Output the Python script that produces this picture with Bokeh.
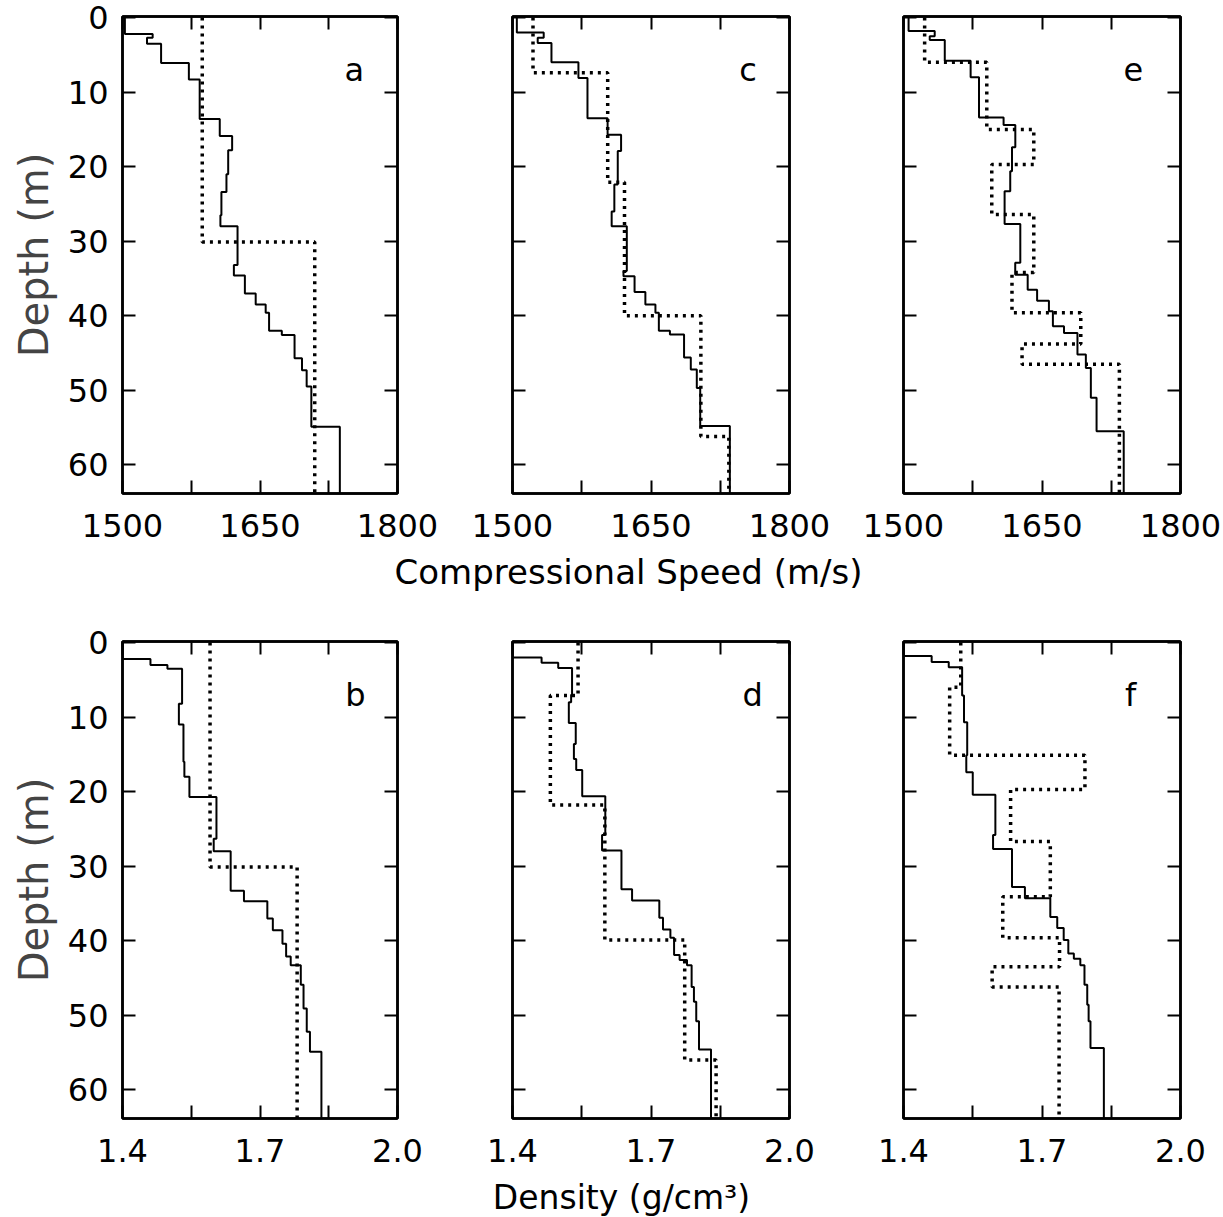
import numpy as np
from bokeh.plotting import figure
from bokeh.models import Range1d, LinearAxis, FixedTicker, Label
from bokeh.layouts import column, row
from bokeh.embed import file_html
from bokeh.resources import INLINE

FONT = "DejaVu Sans"

# ---------------- data ----------------
depth_ticks = [0, 10, 20, 30, 40, 50, 60]

speed_tick_vals = [1500, 1575, 1650, 1725, 1800]
speed_tick_text = ["1500", "", "1650", "", "1800"]
dens_tick_vals = [1.4, 1.55, 1.7, 1.85, 2.0]
dens_tick_text = ["1.4", "", "1.7", "", "2.0"]

# layer boundaries (depth, m) and layer values; solid = measured, dotted = model
a_meas_z = [0, 2.2, 2.7, 3.5, 6.1, 8.3, 13.6, 15.9, 17.8, 21.0, 23.4, 26.5, 28.0, 33.2, 34.6,
            37.0, 38.5, 39.6, 42.0, 42.6, 45.7, 47.3, 49.5, 54.9, 64]
a_meas_v = [1502.6, 1532.9, 1526.7, 1542.1, 1572.4, 1584.2, 1606.1, 1619.6, 1615.3, 1613.4,
            1607.9, 1606.8, 1625.5, 1621.5, 1633.5, 1645.3, 1656.2, 1659.9, 1673.8, 1687.7,
            1695.8, 1700.9, 1706.0, 1737.1]
a_model_z = [0, 30.1, 64]
a_model_v = [1587.0, 1709.7]

c_meas_z = [0, 2.0, 2.7, 3.4, 6.0, 8.1, 13.5, 15.7, 17.9, 22.4, 26.0, 28.0, 34.0, 34.7, 36.8,
            38.5, 39.6, 42.0, 42.5, 45.6, 47.2, 49.7, 54.8, 64]
c_meas_v = [1504.7, 1533.8, 1527.3, 1542.2, 1571.4, 1581.2, 1603.0, 1617.6, 1614.0, 1610.3,
            1607.4, 1623.8, 1620.2, 1632.2, 1643.9, 1654.8, 1658.5, 1670.5, 1685.8, 1693.1,
            1699.6, 1703.3, 1735.4]
c_model_z = [0, 7.4, 22.1, 40.0, 56.2, 64]
c_model_v = [1522.2, 1603.1, 1621.3, 1704.0, 1734.3]

e_meas_z = [0, 1.8, 2.5, 3.0, 5.8, 8.0, 13.4, 14.4, 17.4, 20.6, 23.3, 27.7, 32.9, 34.5, 36.5,
            38.0, 39.4, 41.4, 42.3, 45.2, 47.0, 51.0, 55.5, 64]
e_meas_v = [1505.5, 1533.8, 1528.4, 1544.7, 1572.7, 1581.8, 1608.4, 1621.1, 1617.5, 1615.6,
            1609.5, 1626.5, 1621.0, 1634.5, 1644.7, 1657.5, 1661.8, 1673.8, 1688.4, 1697.5,
            1702.9, 1709.1, 1738.5]
e_model_z = [0, 6.0, 15.0, 19.7, 26.4, 34.2, 39.6, 43.8, 46.5, 64]
e_model_v = [1522.9, 1590.2, 1641.1, 1595.6, 1641.1, 1617.5, 1692.0, 1628.4, 1733.8]

b_meas_z = [0, 2.2, 3.0, 3.5, 8.2, 11.0, 16.0, 18.0, 20.7, 26.3, 28.0, 33.3, 34.7, 37.0, 38.6,
            40.4, 42.1, 43.3, 45.9, 49.1, 52.2, 54.9, 64]
b_meas_v = [1.400, 1.461, 1.498, 1.530, 1.523, 1.533, 1.535, 1.546, 1.605, 1.599, 1.636,
            1.665, 1.716, 1.728, 1.749, 1.757, 1.767, 1.789, 1.795, 1.802, 1.809, 1.834]
b_model_z = [0, 30.1, 64]
b_model_v = [1.591, 1.781]

d_meas_z = [0, 2.0, 2.7, 3.4, 7.0, 8.0, 10.8, 13.6, 15.6, 17.1, 20.6, 25.8, 27.9, 33.1, 34.6,
            36.9, 38.5, 39.6, 41.9, 42.6, 43.3, 46.2, 48.2, 50.8, 54.6, 64]
d_meas_v = [1.400, 1.463, 1.499, 1.529, 1.527, 1.522, 1.537, 1.533, 1.538, 1.551, 1.601,
            1.594, 1.636, 1.659, 1.718, 1.726, 1.742, 1.750, 1.762, 1.778, 1.788, 1.793,
            1.798, 1.804, 1.830]
d_model_z = [0, 7.1, 21.8, 39.9, 56.0, 64]
d_model_v = [1.542, 1.482, 1.600, 1.773, 1.841]

f_meas_z = [0, 1.8, 2.6, 3.3, 7.1, 10.7, 15.1, 17.4, 20.4, 25.8, 27.7, 32.8, 34.3, 36.8, 38.3,
            39.9, 41.7, 42.4, 43.3, 45.9, 48.6, 50.8, 54.4, 64]
f_meas_v = [1.400, 1.461, 1.498, 1.527, 1.531, 1.538, 1.536, 1.550, 1.599, 1.594, 1.635,
            1.663, 1.718, 1.733, 1.747, 1.757, 1.769, 1.783, 1.792, 1.798, 1.801, 1.805, 1.834]
f_model_z = [0, 6.0, 15.1, 19.7, 26.7, 34.1, 39.6, 43.5, 46.2, 64]
f_model_v = [1.524, 1.500, 1.793, 1.632, 1.718, 1.615, 1.738, 1.592, 1.737]

speed_title = "Compressional Speed (m/s)"
dens_title = "Density (g/cm\u00b3)"
depth_title = "Depth (m)"


# ---------------- helpers ----------------
def profile_path(z, v):
    xs, ys = [], []
    for i, val in enumerate(v):
        xs += [val, val]
        ys += [z[i], z[i + 1]]
    return xs, ys


def style_axis(ax, vals, texts, show, size="32px", standoff=14):
    ax.ticker = FixedTicker(ticks=vals)
    ax.major_tick_in = 13
    ax.major_tick_out = 0
    ax.minor_tick_in = 0
    ax.minor_tick_out = 0
    ax.major_tick_line_width = 2
    ax.major_tick_line_color = "black"
    ax.axis_line_width = 2.5
    ax.axis_line_color = "black"
    ax.major_label_text_font = FONT
    ax.major_label_text_color = "black"
    if show:
        ax.major_label_text_font_size = size
        ax.major_label_standoff = standoff
        if texts is not None:
            ax.major_label_overrides = {float(v): t for v, t in zip(vals, texts)}
    else:
        ax.major_label_text_font_size = "8px"
        ax.major_label_standoff = 0
        ax.major_label_overrides = {float(v): "" for v in vals}


def panel(xr, xvals, xtexts, mz, mv, dz, dv, letter, letter_x,
          left_labels, bl, br, bt, bb, fw, xstandoff):
    w = bl + fw + br
    h = bt + 477 + bb
    p = figure(width=w, height=h, x_range=Range1d(*xr), y_range=Range1d(63.85, -0.15),
               output_backend="svg", toolbar_location=None, tools="",
               min_border_left=bl, min_border_right=br, min_border_top=bt,
               min_border_bottom=bb)
    p.grid.visible = False
    p.outline_line_color = "black"
    p.outline_line_width = 2.5
    p.background_fill_color = "white"
    p.border_fill_color = "white"

    style_axis(p.xaxis[0], xvals, xtexts, True, "32px", xstandoff)
    style_axis(p.yaxis[0], depth_ticks, None, left_labels, "32px", 14)
    if left_labels:
        p.yaxis[0].axis_label = depth_title
        p.yaxis[0].axis_label_text_font = FONT
        p.yaxis[0].axis_label_text_font_size = "40px"
        p.yaxis[0].axis_label_text_font_style = "normal"
        p.yaxis[0].axis_label_standoff = 8
    top = LinearAxis()
    style_axis(top, xvals, None, False)
    p.add_layout(top, "above")
    right = LinearAxis()
    style_axis(right, depth_ticks, None, False)
    p.add_layout(right, "right")

    xs, ys = profile_path(mz, mv)
    p.line(xs, ys, line_color="black", line_width=2)
    xs, ys = profile_path(dz, dv)
    p.line(xs, ys, line_color="black", line_width=3.5, line_dash="3 5")

    p.add_layout(Label(x=letter_x, y=7.0, text=letter, text_font=FONT,
                       text_font_size="32px", text_align="center",
                       text_baseline="alphabetic", text_color="black"))
    return p


def title_strip(height, text, x_center, y_mid, size):
    t = figure(width=1223, height=height, x_range=Range1d(0, 1223),
               y_range=Range1d(height, 0), output_backend="svg",
               toolbar_location=None, tools="", x_axis_location=None,
               y_axis_location=None, min_border=0)
    t.grid.visible = False
    t.outline_line_color = None
    t.background_fill_color = "white"
    t.border_fill_color = "white"
    t.add_layout(Label(x=x_center, y=y_mid, text=text, text_font=FONT,
                       text_font_size=size, text_align="center",
                       text_baseline="middle", text_color="black"))
    return t


SR = (1500, 1800)
DR = (1.4, 2.0)
BB1 = 58  # bottom border, top row
BB2 = 58  # bottom border, bottom row

pa = panel(SR, speed_tick_vals, speed_tick_text, a_meas_z, a_meas_v, a_model_z, a_model_v,
           "a", 1753, True, 122, 50, 16, BB1, 275, 20)
pc = panel(SR, speed_tick_vals, speed_tick_text, c_meas_z, c_meas_v, c_model_z, c_model_v,
           "c", 1755, False, 65, 50, 16, BB1, 277, 20)
pe = panel(SR, speed_tick_vals, speed_tick_text, e_meas_z, e_meas_v, e_model_z, e_model_v,
           "e", 1749, False, 64, 43, 16, BB1, 277, 20)

pb = panel(DR, dens_tick_vals, dens_tick_text, b_meas_z, b_meas_v, b_model_z, b_model_v,
           "b", 1.908, True, 122, 50, 16, BB2, 275, 20)
pd = panel(DR, dens_tick_vals, dens_tick_text, d_meas_z, d_meas_v, d_model_z, d_model_v,
           "d", 1.92, False, 65, 50, 16, BB2, 277, 20)
pf = panel(DR, dens_tick_vals, dens_tick_text, f_meas_z, f_meas_v, f_model_z, f_model_v,
           "f", 1.892, False, 64, 43, 16, BB2, 277, 20)

row1_h = 16 + 477 + BB1
row2_h = 16 + 477 + BB2
h1 = 625 - row1_h
h2 = 1217 - 625 - row2_h
t1 = title_strip(h1, speed_title, 628, 20.5, "34px")
t2 = title_strip(h2, dens_title, 621, h2 / 2, "33px")

layout = column(row(pa, pc, pe, spacing=0), t1, row(pb, pd, pf, spacing=0), t2, spacing=0)
open("out.html", "w").write(file_html(layout, INLINE))
